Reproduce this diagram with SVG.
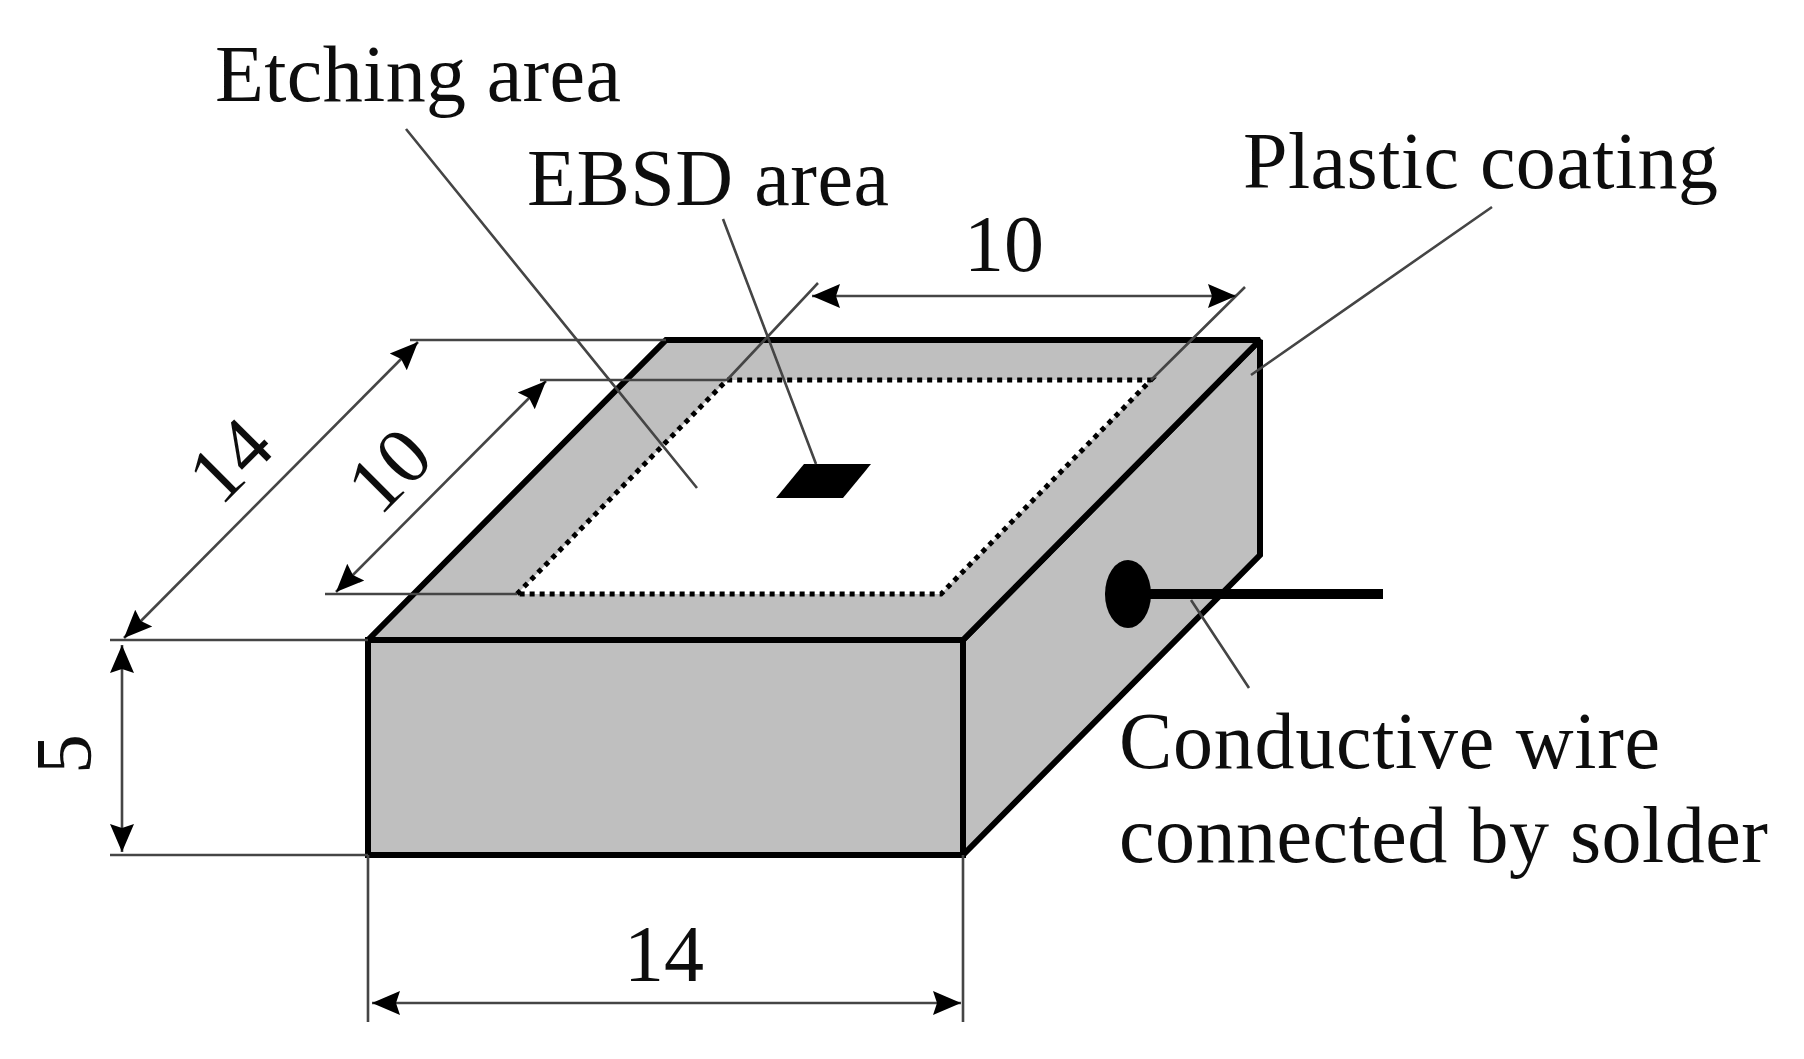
<svg xmlns="http://www.w3.org/2000/svg" width="1804" height="1059" viewBox="0 0 1804 1059">
<style>
text{font-family:"Liberation Serif","Times New Roman",serif;font-size:80px;fill:#111}
.t{stroke:#444;stroke-width:2.6;fill:none}
.d{stroke:#444;stroke-width:2.6;fill:none;marker-start:url(#a);marker-end:url(#a)}
.o{stroke:#000;stroke-width:6;fill:#bfbfbf;stroke-linejoin:miter;stroke-miterlimit:1.5}
.dot{stroke:#000;stroke-width:5;stroke-dasharray:5 5;fill:none}
</style>
<defs>
<marker id="a" markerUnits="userSpaceOnUse" markerWidth="32" markerHeight="28" refX="28" refY="14" orient="auto-start-reverse">
<path d="M28 14L0 2L4 14L0 26Z" fill="#000"/>
</marker>
<filter id="b" x="0" y="0" width="100%" height="100%"><feGaussianBlur stdDeviation="0.7"/></filter>
</defs>
<rect width="1804" height="1059" fill="#fff"/>
<g filter="url(#b)">
<g id="block">
<path class="o" d="M963 640L1260 340V555L963 855Z"/>
<path class="o" d="M368 640L666 340H1260L963 640Z"/>
<path d="M517 594L727 380H1151L941 594Z" fill="#fff"/>
<rect class="o" x="368" y="640" width="595" height="215"/>
<path class="dot" d="M517 594L727 380H1151L941 594Z"/>
</g>
<g id="ebsd-patch"><path d="M804 464H871L843 498H776Z" fill="#000"/></g>
<g id="wire">
<ellipse cx="1128" cy="594" rx="23" ry="34" fill="#000"/>
<path d="M1145 594H1383" stroke="#000" stroke-width="10" fill="none"/>
</g>
<g id="connectors">
<path class="t" d="M410 340H666M540 380H727M325 594H517M110 640H368M110 855H368M368 855V1022M963 855V1022M818 283L727 380M1245 287L1151 380"/>
<path class="t" d="M406 129L697 488M723 219L816 464M1492 207L1251 375M1191 600L1249 688"/>
<path class="d" d="M124 638L418 342"/>
<path class="d" d="M336 592L546 381"/>
<path class="d" d="M812 296H1236"/>
<path class="d" d="M122 645V852"/>
<path class="d" d="M372 1003H961"/>
</g>
<g id="labels">
<text x="215" y="101" textLength="406">Etching area</text>
<text x="527" y="205" textLength="362">EBSD area</text>
<text x="1243" y="188" textLength="475">Plastic coating</text>
<text x="1004" y="271" text-anchor="middle">10</text>
<text x="230" y="460" text-anchor="middle" transform="rotate(-45 230 460)" dy="27">14</text>
<text x="389" y="470" text-anchor="middle" transform="rotate(-45 389 470)" dy="27">10</text>
<text x="64" y="754" text-anchor="middle" transform="rotate(-90 64 754)" dy="27">5</text>
<text x="664" y="981" text-anchor="middle">14</text>
<text x="1119" y="768" textLength="541">Conductive wire</text>
<text x="1119" y="862" textLength="649">connected by solder</text>
</g>
</g>
</svg>
